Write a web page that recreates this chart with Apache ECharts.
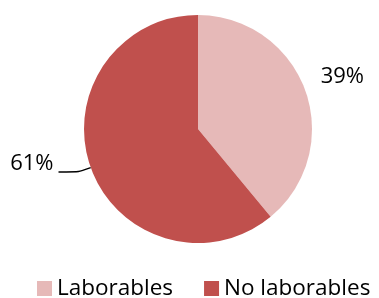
<!DOCTYPE html>
<html>
<head>
<meta charset="utf-8">
<script src="https://cdn.jsdelivr.net/npm/echarts@6/dist/echarts.min.js"></script>
<style>html,body{margin:0;padding:0;background:#fff}#c{width:379px;height:298px}</style>
</head>
<body>
<div id="c"></div>
<script>
var categories = ["Laborables", "No laborables"];
var values = [39, 61];
var colors = ["#E6B9B8", "#C0504D"];

var FONT = "Open Sans";
var chart = echarts.init(document.getElementById('c'), null, {renderer: 'canvas'});
var data = [
  {
    name: categories[0], value: values[0],
    itemStyle: {color: colors[0]},
    label: {lineHeight: 20},
    labelLine: {show: false, length: 10, length2: 1}
  },
  {
    name: categories[1], value: values[1],
    itemStyle: {color: colors[1]},
    label: {lineHeight: 17},
    labelLine: {show: true, length: 13, length2: 20, smooth: 0.2,
      lineStyle: {color: '#000', width: 1.5}}
  }
];
chart.setOption({
  animation: false,
  backgroundColor: '#fff',
  legend: {
    data: categories,
    left: 37,
    top: 277,
    padding: 0,
    itemGap: 31,
    itemWidth: 15,
    itemHeight: 15,
    icon: 'rect',
    textStyle: {fontFamily: FONT, fontSize: 22.5, color: '#000'}
  },
  series: [{
    type: 'pie',
    center: [198, 129],
    radius: 114,
    startAngle: 90,
    clockwise: true,
    data: data,
    itemStyle: {borderWidth: 0},
    label: {
      show: true,
      position: 'outside',
      formatter: function (p) { return p.value + '%\n '; },
      fontFamily: FONT,
      fontSize: 22,
      color: '#000',
      bleedMargin: 2,
      overflow: 'none',
      distanceToLabelLine: 5
    },
    labelLine: {show: true}
  }]
});
</script>
</body>
</html>
